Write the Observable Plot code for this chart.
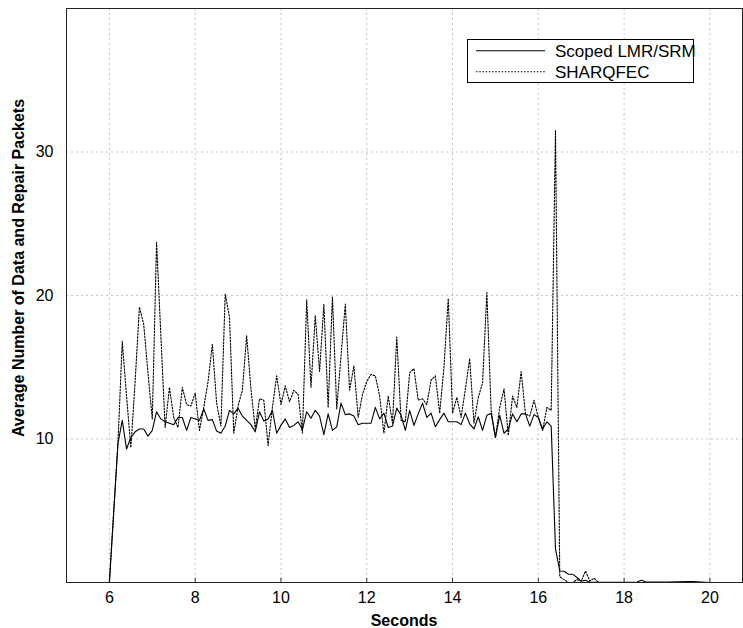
<!DOCTYPE html>
<html><head><meta charset="utf-8">
<script src="https://cdn.jsdelivr.net/npm/d3@7"></script>
<script src="https://cdn.jsdelivr.net/npm/@observablehq/plot@0.6"></script>
<style>
body{margin:0;background:#fff}
#wrap{position:relative;width:743px;height:628px;font-family:"Liberation Sans",Arial,Helvetica,sans-serif}
</style></head><body><div id="wrap"></div>
<script>
// ---- data ----
const sharqSeconds = [
 6.0,6.1,6.2,6.3,6.4,6.5,6.6,6.7,6.8,6.9,
 7.0,7.1,7.2,7.3,7.4,7.5,7.6,7.7,7.8,7.9,
 8.0,8.1,8.2,8.3,8.4,8.5,8.6,8.7,8.8,8.9,
 9.0,9.1,9.2,9.3,9.4,9.5,9.6,9.7,9.8,9.9,
 10.0,10.1,10.2,10.3,10.4,10.5,10.6,10.7,10.8,10.9,
 11.0,11.1,11.2,11.3,11.4,11.5,11.6,11.7,11.8,11.9,
 12.0,12.1,12.2,12.3,12.4,12.5,12.6,12.7,12.8,12.9,
 13.0,13.1,13.2,13.3,13.4,13.5,13.6,13.7,13.8,13.9,
 14.0,14.1,14.2,14.3,14.4,14.5,14.6,14.7,14.8,14.9,
 15.0,15.1,15.2,15.3,15.4,15.5,15.6,15.7,15.8,15.9,
 16.0,16.1,16.2,16.3,16.4,16.5,16.6,16.7,16.8,16.9,
 17.0,17.1,17.2,17.3,17.4
];
const sharqValues = [
 0,4.9,9.7,16.8,13.0,9.4,14.0,19.2,18.0,14.6,
 11.4,23.7,17.2,10.8,13.6,11.5,10.8,13.6,12.4,12.3,
 13.2,10.6,12.2,14.0,16.6,12.5,10.9,20.1,18.5,10.4,
 12.3,13.4,17.2,13.5,10.7,12.8,12.7,9.55,12.2,14.4,
 12.4,13.7,12.6,13.4,13.1,10.4,19.7,13.6,18.6,14.7,
 19.4,12.2,19.9,12.1,15.8,19.4,13.4,15.1,11.5,13.1,
 14.0,14.5,14.4,13.0,10.4,13.0,11.1,17.1,11.3,11.2,
 14.6,14.9,12.7,12.8,12.4,14.1,14.4,11.8,15.0,19.8,
 11.8,12.9,11.5,13.5,15.6,11.1,12.9,13.9,20.2,12.0,
 10.1,12.2,13.5,10.25,13.0,12.2,14.7,11.75,11.6,12.7,
 11.5,10.6,12.2,12.0,31.5,0.4,0.2,0.0,0.0,0.2,
 0.1,0.8,0.1,0.3,0.0
];
const scopedSeconds = [
 6.0,6.1,6.2,6.3,6.4,6.5,6.6,6.7,6.8,6.9,
 7.0,7.1,7.2,7.3,7.4,7.5,7.6,7.7,7.8,7.9,
 8.0,8.1,8.2,8.3,8.4,8.5,8.6,8.7,8.8,8.9,
 9.0,9.1,9.2,9.3,9.4,9.5,9.6,9.7,9.8,9.9,
 10.0,10.1,10.2,10.3,10.4,10.5,10.6,10.7,10.8,10.9,
 11.0,11.1,11.2,11.3,11.4,11.5,11.6,11.7,11.8,11.9,
 12.0,12.1,12.2,12.3,12.4,12.5,12.6,12.7,12.8,12.9,
 13.0,13.1,13.2,13.3,13.4,13.5,13.6,13.7,13.8,13.9,
 14.0,14.1,14.2,14.3,14.4,14.5,14.6,14.7,14.8,14.9,
 15.0,15.1,15.2,15.3,15.4,15.5,15.6,15.7,15.8,15.9,
 16.0,16.1,16.2,16.3,16.4,16.5,16.6,16.7,16.8,16.9,
 17.0,17.1,17.2,17.3,17.5,18.0,18.3,18.4,18.5,19.0,19.5,19.6,19.8,20.0
];
const scopedValues = [
 0,4.9,9.7,11.3,9.3,10.1,10.5,10.7,10.7,10.2,
 10.6,11.9,11.4,11.2,11.1,11.0,11.5,11.5,10.6,11.5,
 11.4,11.3,12.1,11.3,11.35,10.55,10.4,10.9,12.0,11.75,
 12.15,11.6,11.3,11.0,10.5,11.9,11.25,11.4,12.0,10.4,
 10.95,11.4,10.8,10.95,11.2,10.65,11.9,11.45,12.0,11.6,
 10.3,11.75,10.6,10.85,12.5,11.7,11.75,11.6,11.0,11.1,
 11.1,11.1,12.2,11.4,11.8,10.8,10.9,12.15,11.65,10.6,
 12.0,10.95,11.75,12.5,11.5,11.8,10.85,11.35,11.8,11.2,
 11.2,11.2,11.0,11.8,11.05,10.7,11.55,10.6,11.65,11.8,
 10.1,11.65,10.4,10.7,11.75,11.2,11.75,11.75,10.9,11.7,
 11.5,10.7,11.2,10.9,2.35,0.8,0.78,0.58,0.58,0.35,
 0.1,0.15,0.02,0.02,0.02,0.02,0.03,0.15,0.05,0.03,0.06,0.07,0.03,0.0
];
const xTicks = [6, 8, 10, 12, 14, 16, 18, 20];
const yTicks = [10, 20, 30];
const seriesNames = ["Scoped LMR/SRM", "SHARQFEC"];
const xTitle = "Seconds";
const yTitle = "Average Number of Data and Repair Packets";

// ---- tables built from the arrays ----
const scoped = scopedSeconds.map((t, i) => ({t, v: scopedValues[i]}));
const sharq = sharqSeconds.map((t, i) => ({t, v: sharqValues[i]}));

const font = '"Liberation Sans", Arial, Helvetica, sans-serif';
const dotted = "1.6,1.6";
const chart = Plot.plot({
  width: 743, height: 628,
  marginLeft: 66, marginRight: 1, marginTop: 8, marginBottom: 46,
  style: {fontFamily: font, fontSize: "16px", color: "#000", background: "#fff"},
  x: {domain: [5, 20.76], label: null},
  y: {domain: [0, 40], label: null},
  marks: [
    Plot.gridX(xTicks, {stroke: "#c4c4c4", strokeOpacity: 1, strokeDasharray: "2,3"}),
    Plot.gridY(yTicks, {stroke: "#c4c4c4", strokeOpacity: 1, strokeDasharray: "2,3"}),
    Plot.ruleX(xTicks, {y1: 0, y2: 0.3, stroke: "#333", strokeWidth: 1}),
    Plot.line(scoped, {x: "t", y: "v", stroke: "#000", strokeWidth: 1.1}),
    Plot.line(sharq, {x: "t", y: "v", stroke: "#000", strokeWidth: 1.1, strokeDasharray: dotted}),
    Plot.axisX(xTicks, {tickSize: 0, tickPadding: 9, label: null, tickFormat: d => String(d), fontSize: 16}),
    Plot.axisY(yTicks, {tickSize: 0, tickPadding: 13, label: null, tickFormat: d => String(d), fontSize: 16}),
    Plot.frame({stroke: "#222", strokeWidth: 1})
  ]
});
const wrap = document.getElementById("wrap");
wrap.appendChild(chart);

// overlay: axis titles and legend
const NS = "http://www.w3.org/2000/svg";
const ov = document.createElementNS(NS, "svg");
ov.setAttribute("width", 743);
ov.setAttribute("height", 628);
ov.style.position = "absolute";
ov.style.left = "0px";
ov.style.top = "0px";
ov.style.pointerEvents = "none";
function el(tag, attrs, text) {
  const e = document.createElementNS(NS, tag);
  for (const k in attrs) e.setAttribute(k, attrs[k]);
  if (text != null) e.textContent = text;
  ov.appendChild(e);
  return e;
}
el("text", {x: 404, y: 626, "text-anchor": "middle", "font-family": font, "font-size": 16, "font-weight": "bold"}, xTitle);
el("text", {transform: "translate(24,268) rotate(-90)", "text-anchor": "middle", "font-family": font, "font-size": 16, "font-weight": "bold"}, yTitle);

// legend box
const lx = 466, ly = 38;
el("rect", {x: lx + 1.5, y: ly + 1.5, width: 226, height: 43, fill: "#fff", stroke: "#000"});
const rowY = [12.7, 33.7];
const dashes = [null, dotted];
seriesNames.forEach((name, i) => {
  const a = {x1: lx + 10, x2: lx + 79, y1: ly + rowY[i], y2: ly + rowY[i], stroke: "#000", "stroke-width": 1.1};
  if (dashes[i]) a["stroke-dasharray"] = dashes[i];
  el("line", a);
  el("text", {x: lx + 89, y: ly + rowY[i] + 6, "font-family": font, "font-size": 17}, name);
});
wrap.appendChild(ov);
</script>
</body></html>
